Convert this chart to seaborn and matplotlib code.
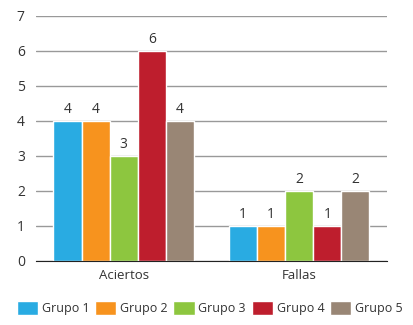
import pandas as pd
import numpy as np
import matplotlib
matplotlib.use("Agg")
import matplotlib.pyplot as plt
import seaborn as sns

# data
categorias = ["Aciertos", "Fallas"]
grupos = ["Grupo 1", "Grupo 2", "Grupo 3", "Grupo 4", "Grupo 5"]
aciertos = [4, 4, 3, 6, 4]
fallas = [1, 1, 2, 1, 2]
colores = ["#29ABE2", "#F7931E", "#8DC63F", "#BE1E2D", "#998675"]

df = pd.DataFrame({
    "categoria": [categorias[0]] * 5 + [categorias[1]] * 5,
    "grupo": grupos + grupos,
    "valor": aciertos + fallas,
})

sns.set_style("white")
plt.rcParams["font.family"] = ["Open Sans", "DejaVu Sans"]

fig = plt.figure(figsize=(4.13, 3.25), dpi=100)
ax = fig.add_axes([0.087, 0.197, 0.85, 0.754])

sns.barplot(data=df, x="categoria", y="valor", hue="grupo", palette=colores,
            saturation=1, width=0.8, edgecolor="white", linewidth=1, ax=ax, legend=True)

for c in ax.containers:
    ax.bar_label(c, padding=3, fontsize=10, color="#333333")

ax.set_ylim(0, 7)
ax.set_yticks(range(8))
ax.set_xlim(-0.5, 1.5)
ax.yaxis.grid(True, color="#999999", linewidth=1)
ax.set_axisbelow(True)
ax.set_xlabel("")
ax.set_ylabel("")
for s in ["top", "right", "left"]:
    ax.spines[s].set_visible(False)
ax.spines["bottom"].set_color("#222222")
ax.tick_params(axis="y", length=0, labelsize=10, labelcolor="#333333", pad=8)
ax.tick_params(axis="x", which="major", length=0, labelsize=9.5, labelcolor="#333333", pad=6)
ax.set_xticks([-0.5, 0.5, 1.5], minor=True)
ax.tick_params(axis="x", which="minor", length=8, direction="inout", color="#222222")

handles, labels = ax.get_legend_handles_labels()
ax.get_legend().remove()
fig.legend(handles, labels, loc="center", bbox_to_anchor=(0.508, 0.052), ncol=5, frameon=False,
           fontsize=9, handlelength=1.7, handleheight=1.3, handletextpad=0.3,
           columnspacing=0.45, labelcolor="#333333")

fig.savefig("out.png", dpi=100)
